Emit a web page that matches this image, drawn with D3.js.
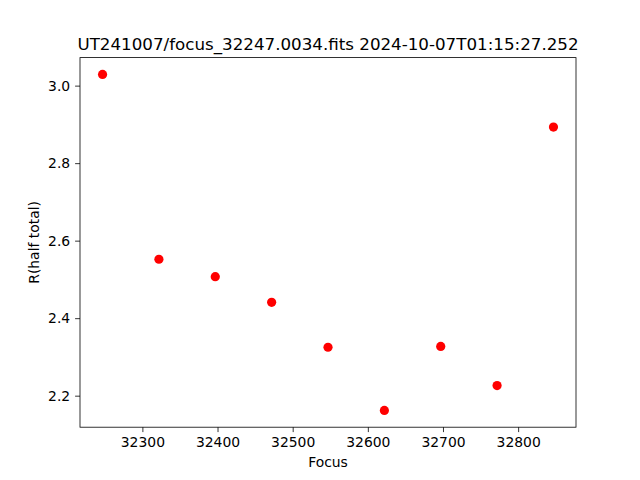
<!DOCTYPE html>
<html>
<head>
<meta charset="utf-8">
<script src="https://cdn.jsdelivr.net/npm/d3@7"></script>
<style>
  html, body { margin: 0; padding: 0; background: #fff; }
  svg { display: block; font-family: "DejaVu Sans", sans-serif; }
</style>
</head>
<body>
<svg id="chart" width="640" height="480"></svg>
<script>
const focusValues = [32247, 32322, 32397, 32472, 32547, 32622, 32697, 32772, 32847];
const halfTotalR = [3.029, 2.552, 2.507, 2.441, 2.325, 2.162, 2.327, 2.226, 2.893];
const xTicks = [32300, 32400, 32500, 32600, 32700, 32800];
const yTicks = [2.2, 2.4, 2.6, 2.8, 3.0];
const titleText = "UT241007/focus_32247.0034.fits 2024-10-07T01:15:27.252";
const xLabel = "Focus";
const yLabel = "R(half total)";

(function () {
const svg = d3.select("#chart");
const W = 640, H = 480;
const mLeft = 80, mRight = 576, mTop = 57.6, mBottom = 427.2;

function padded(vals) {
  const [a, b] = d3.extent(vals);
  const m = (b - a) * 0.05;
  return [a - m, b + m];
}

const x = d3.scaleLinear().domain(padded(focusValues)).range([mLeft, mRight]);
const y = d3.scaleLinear().domain(padded(halfTotalR)).range([mBottom, mTop]);

svg.append("rect").attr("x", 0).attr("y", 0).attr("width", W).attr("height", H).attr("fill", "#fff");

svg.append("g").selectAll("circle")
  .data(focusValues.map((f, i) => ({ f, r: halfTotalR[i] })))
  .enter().append("circle")
  .attr("cx", d => x(d.f))
  .attr("cy", d => y(d.r))
  .attr("r", 4.6)
  .attr("fill", "#ff0000");

const xAxis = d3.axisBottom(x).tickValues(xTicks).tickFormat(d3.format("d")).tickSizeOuter(0).tickSize(4.9).tickPadding(4.9);
const yAxis = d3.axisLeft(y).tickValues(yTicks).tickFormat(d3.format(".1f")).tickSizeOuter(0).tickSize(4.9).tickPadding(4.9);

const gx = svg.append("g").attr("transform", `translate(0,${mBottom})`).call(xAxis);
const gy = svg.append("g").attr("transform", `translate(${mLeft},0)`).call(yAxis);
[gx, gy].forEach(g => {
  g.select(".domain").remove();
  g.selectAll(".tick line").attr("stroke", "#000").attr("stroke-width", 0.8);
  g.selectAll(".tick text").attr("fill", "#000").attr("font-size", "13.9px").attr("font-family", "DejaVu Sans, sans-serif");
});

svg.append("rect")
  .attr("x", mLeft).attr("y", mTop)
  .attr("width", mRight - mLeft).attr("height", mBottom - mTop)
  .attr("fill", "none").attr("stroke", "#000").attr("stroke-width", 0.8);

svg.append("text")
  .attr("x", (mLeft + mRight) / 2).attr("y", 49.5)
  .attr("text-anchor", "middle")
  .attr("font-size", "16.7px")
  .attr("fill", "#000")
  .text(titleText);

svg.append("text")
  .attr("x", (mLeft + mRight) / 2).attr("y", 466.5)
  .attr("text-anchor", "middle")
  .attr("font-size", "13.9px")
  .attr("fill", "#000")
  .text(xLabel);

svg.append("text")
  .attr("transform", `translate(38.5,${(mTop + mBottom) / 2}) rotate(-90)`)
  .attr("text-anchor", "middle")
  .attr("font-size", "13.9px")
  .attr("fill", "#000")
  .text(yLabel);
})();
</script>
</body>
</html>
